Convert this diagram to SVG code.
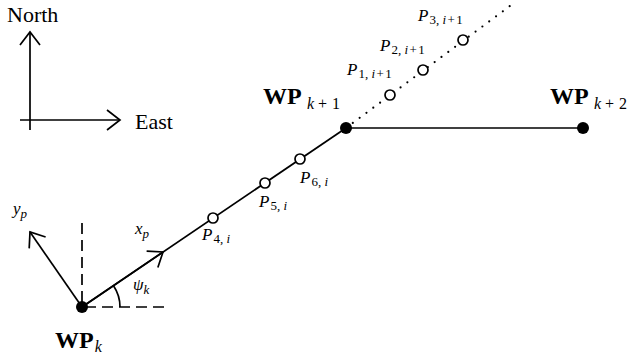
<svg xmlns="http://www.w3.org/2000/svg" width="628" height="360" viewBox="0 0 628 360">
<style>
.ln{stroke:#000;stroke-width:1.7;fill:none}
.arr{stroke:#000;stroke-width:1.7;fill:none;marker-end:url(#ch)}
.dash{stroke:#000;stroke-width:1.7;fill:none;stroke-dasharray:11 6}
.dotted{stroke:#000;stroke-width:2.2;fill:none;stroke-dasharray:0 8.5;stroke-linecap:round}
.hollow{fill:#fff;stroke:#000;stroke-width:1.7}
.solid{fill:#000}
text{font-family:"Liberation Serif","DejaVu Serif",serif;fill:#000}
.it{font-style:italic}
.up{font-style:normal}
.bf{font-weight:bold;font-size:24px}
.sub{font-size:16px}
.lab{font-size:17px;font-style:italic}
.ls{font-size:13px}
.word{font-size:22px}
</style>
<defs>
<marker id="ch" markerUnits="userSpaceOnUse" markerWidth="30" markerHeight="30" viewBox="-15 -15 30 30" refX="0" refY="0" orient="auto" overflow="visible">
<path d="M-13,-10 L0,0 L-13,10" fill="none" stroke="#000" stroke-width="1.7"/>
</marker>
</defs>

<g id="compass">
<path class="arr" d="M30,130 V32"/>
<path class="arr" d="M20,120 H120"/>
<text class="word" x="7" y="22">North</text>
<text class="word" x="135" y="129">East</text>
</g>

<g id="connectors">
<path class="ln" d="M82,307 L346,128"/>
<path class="ln" d="M346,128 H583"/>
<path class="dotted" d="M346,128 L514,3"/>
<path class="arr" d="M82,307 L163,252"/>
<path class="arr" d="M82,307 L30,232"/>
<path class="dash" d="M82,223 V307"/>
<path class="dash" d="M85,307 H167"/>
<path class="ln" d="M120,307 A38,38 0 0,0 113.5,285.7"/>
</g>

<g id="WPk">
<circle class="solid" cx="82" cy="307" r="6"/>
<text x="55" y="348"><tspan class="bf">WP</tspan><tspan class="sub it" dy="4" dx="1">k</tspan></text>
</g>
<g id="WPk1">
<circle class="solid" cx="346" cy="128" r="6"/>
<text x="263" y="104"><tspan class="bf">WP</tspan><tspan class="sub it" x="307" dy="5">k</tspan><tspan class="sub" x="318">+</tspan><tspan class="sub" x="332">1</tspan></text>
</g>
<g id="WPk2">
<circle class="solid" cx="583" cy="128" r="6"/>
<text x="550" y="104"><tspan class="bf">WP</tspan><tspan class="sub it" x="594" dy="5">k</tspan><tspan class="sub" x="605">+</tspan><tspan class="sub" x="619">2</tspan></text>
</g>

<g id="P4">
<circle class="hollow" cx="213" cy="218" r="5"/>
<text class="lab" x="202" y="240">P<tspan class="ls up" dy="3" dx="1">4, </tspan><tspan class="ls">i</tspan></text>
</g>
<g id="P5">
<circle class="hollow" cx="265" cy="183" r="5"/>
<text class="lab" x="259" y="207">P<tspan class="ls up" dy="3" dx="1">5, </tspan><tspan class="ls">i</tspan></text>
</g>
<g id="P6">
<circle class="hollow" cx="300" cy="159" r="5"/>
<text class="lab" x="300" y="183">P<tspan class="ls up" dy="3" dx="1">6, </tspan><tspan class="ls">i</tspan></text>
</g>
<g id="P1">
<circle class="hollow" cx="390" cy="95" r="5"/>
<text class="lab" x="347" y="75">P<tspan class="ls up" dy="3" dx="1">1, </tspan><tspan class="ls">i</tspan><tspan class="ls up" dx="1.5">+</tspan><tspan class="ls up" dx="1.5">1</tspan></text>
</g>
<g id="P2">
<circle class="hollow" cx="423" cy="70" r="5"/>
<text class="lab" x="380" y="51">P<tspan class="ls up" dy="3" dx="1">2, </tspan><tspan class="ls">i</tspan><tspan class="ls up" dx="1.5">+</tspan><tspan class="ls up" dx="1.5">1</tspan></text>
</g>
<g id="P3">
<circle class="hollow" cx="463" cy="40" r="5"/>
<text class="lab" x="418" y="21">P<tspan class="ls up" dy="3" dx="1">3, </tspan><tspan class="ls">i</tspan><tspan class="ls up" dx="1.5">+</tspan><tspan class="ls up" dx="1.5">1</tspan></text>
</g>

<g id="axes-labels">
<text class="lab" x="135" y="234">x<tspan class="ls" dy="4">p</tspan></text>
<text class="lab" x="13" y="214">y<tspan class="ls" dy="4">p</tspan></text>
<text class="lab" x="133" y="290">ψ<tspan class="ls" dy="4">k</tspan></text>
</g>
</svg>
